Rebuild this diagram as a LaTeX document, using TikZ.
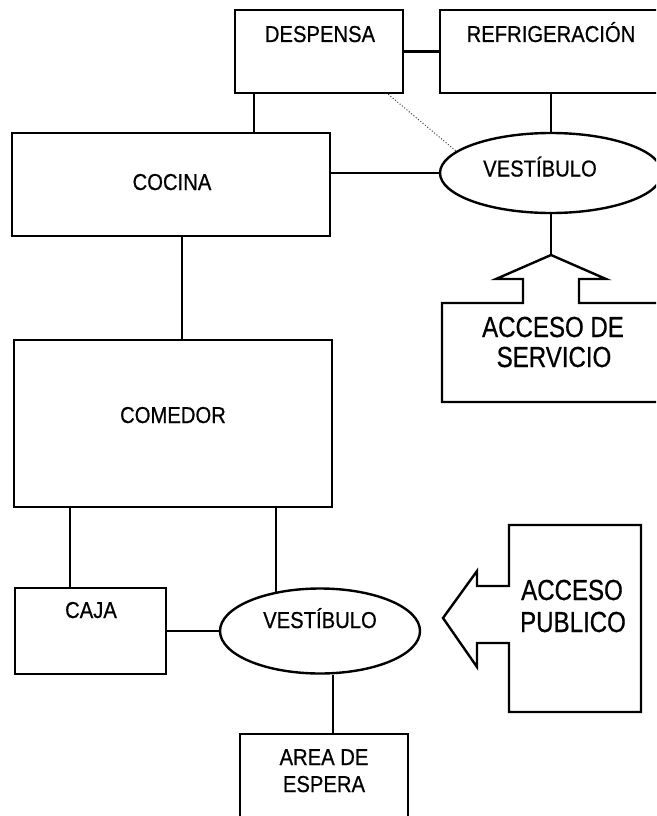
\documentclass[tikz,border=0pt]{standalone}
\usepackage{fontspec}
\usetikzlibrary{shapes.geometric,calc}
\newfontfamily\labfont[FakeStretch=0.88,FakeBold=0.6]{Liberation Sans}
\newfontfamily\bigfont[FakeStretch=0.83,FakeBold=0.6]{Liberation Sans}
\begin{document}
\begin{tikzpicture}[x=1pt,y=-1pt,
  boxnode/.style={draw,line width=2.4pt,rectangle,minimum width=#1,inner sep=0pt},
  ellnode/.style={draw,line width=2.4pt,ellipse,inner sep=0pt},
  lab/.style={inner sep=0pt,anchor=base,font=\labfont\fontsize{23}{26}\selectfont},
  biglab/.style={inner sep=0pt,anchor=base,align=center,font=\bigfont\fontsize{29}{30}\selectfont},
  conn/.style={line width=2.2pt},
  faint/.style={line width=1pt,dotted,black!75}]
\useasboundingbox (0,0) rectangle (656,816);
\clip (0,0) rectangle (656,816);
\fill[white] (0,0) rectangle (656,816);

% boxes
\node[boxnode=168pt,minimum height=83pt] (desp) at (319,51.5) {};
\node[boxnode=222pt,minimum height=83pt] (refr) at (551,51.5) {};
\node[boxnode=318pt,minimum height=103pt] (coc) at (171,184.5) {};
\node[boxnode=318pt,minimum height=167pt] (com) at (173,423.5) {};
\node[boxnode=151pt,minimum height=86pt] (caja) at (90.5,631) {};
\node[boxnode=168pt,minimum height=120pt] (area) at (324,794) {};
\node[ellnode,minimum width=222pt,minimum height=80pt] (v1) at (551,173) {};
\node[ellnode,minimum width=200pt,minimum height=85pt] (v2) at (320,631) {};

% texts
\node[lab] (tdesp) at (320,42) {DESPENSA};
\node[lab] (trefr) at (551,42) {REFRIGERACIÓN};
\node[lab] (tv1) at (540,176.5) {VESTÍBULO};
\node[lab] (tcoc) at (172,190) {COCINA};
\node[lab] (tcom) at (173,423) {COMEDOR};
\node[lab] (tcaja) at (91,618) {CAJA};
\node[lab] (tv2) at (320,628) {VESTÍBULO};
\node[lab] (tarea1) at (324,765) {AREA DE};
\node[lab] (tarea2) at (324,792) {ESPERA};

% service access arrow
\coordinate (tip1) at (551,255);
\draw[line width=2.4pt,line join=miter] (579,303) -- (700,303) -- (700,402) -- (442,402) -- (442,303)
  -- (523,303) -- (523,279) -- (496,279) -- (tip1) -- (606,279) -- (579,279) -- cycle;
\node[biglab] (tserv1) at (553,337) {ACCESO DE};
\node[biglab] (tserv2) at (554,367) {SERVICIO};

% public access arrow
\coordinate (tip2) at (443,618);
\draw[line width=2.4pt,line join=miter] (509,586) -- (509,525) -- (641,525) -- (641,712) -- (509,712)
  -- (509,643) -- (477,643) -- (477,667) -- (tip2) -- (477,571) -- (477,586) -- cycle;
\node[biglab] (tpub1) at (572,600) {ACCESO};
\node[biglab] (tpub2) at (573,632) {PUBLICO};

% connectors
\draw[conn] (desp.east) -- (refr.west);
\draw[conn] (desp.south west) ++(20,0) coordinate (c0) -- (c0 |- coc.north);
\draw[conn] (refr.south) -- (refr.south |- v1.north);
\draw[faint] ($(desp.south east)+(-16,0)$) -- (v1.167);
\draw[conn] (v1.west) -- (v1.west -| coc.east);
\draw[conn] (v1.south) -- (tip1);
\draw[conn] (coc.south) ++(11,0) coordinate (c1) -- (c1 |- com.north);
\draw[conn] (com.south west) ++(57,0) coordinate (c2) -- (c2 |- caja.north);
\draw[conn] (v2.138) -- (v2.138 |- com.south);
\draw[conn] (caja.east) -- (v2.west);
\draw[conn] (area.north) ++(9,0) coordinate (c4) -- (c4 |- v2.south);
\end{tikzpicture}
\end{document}
